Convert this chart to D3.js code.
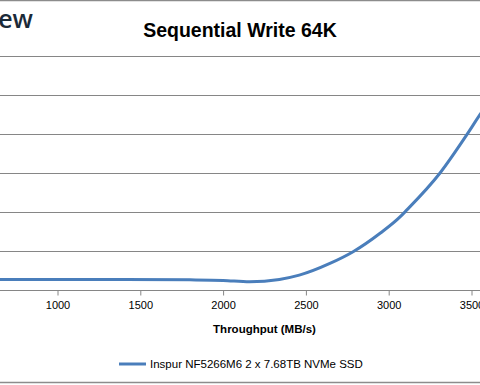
<!DOCTYPE html>
<html>
<head>
<meta charset="utf-8">
<script src="https://cdn.jsdelivr.net/npm/d3@7"></script>
<style>
  body { margin: 0; background: #fff; }
  svg { display: block; font-family: "Liberation Sans", Arial, sans-serif; }
</style>
</head>
<body>
<script>
// data (throughput MB/s vs latency)
const throughput = [300, 650, 1000, 1400, 1800, 2000, 2160, 2340, 2460, 2645, 2785, 2950, 3070, 3100, 3310, 3470, 3550, 3650];
const latency    = [0.27, 0.27, 0.27, 0.27, 0.26, 0.245, 0.21, 0.27, 0.38, 0.68, 0.98, 1.46, 1.88, 2.01, 3.0, 3.97, 4.49, 5.1];
const xTicks = [1000, 1500, 2000, 2500, 3000, 3500];
const yTicks = [1, 2, 3, 4, 5, 6];
const seriesName = "Inspur NF5266M6 2 x 7.68TB NVMe SSD";

const width = 480, height = 385;

let svg = d3.select("body").append("svg")
    .attr("width", width)
    .attr("height", height);

// chart frame (cropped)
svg.append("line").attr("x1", 0).attr("x2", width).attr("y1", 0.5).attr("y2", 0.5)
    .attr("stroke", "#8c8c8c").attr("stroke-width", 1.5);
svg.append("line").attr("x1", 0).attr("x2", width).attr("y1", 382.5).attr("y2", 382.5)
    .attr("stroke", "#8c8c8c").attr("stroke-width", 1.5);

// scales: plot area starts left of the visible crop
const x = d3.scaleLinear().domain([0, 4000]).range([-108.1, 554.3]);
const y = d3.scaleLinear().domain([0, 6]).range([290, 56]);

// logo + title
svg.append("text")
    .attr("x", 33).attr("y", 28)
    .attr("text-anchor", "end")
    .attr("fill", "#1b2a38")
    .style("font-family", "'Open Sans', sans-serif")
    .style("font-weight", "600")
    .style("font-size", "25px")
    .text("StorageReview");

svg.append("text")
    .attr("x", 240).attr("y", 37)
    .attr("text-anchor", "middle")
    .style("font-size", "19.5px")
    .style("font-weight", "bold")
    .text("Sequential Write 64K");

// gridlines
svg.append("g")
    .selectAll("line")
    .data(yTicks)
    .join("line")
    .attr("x1", 0).attr("x2", width)
    .attr("y1", (d) => Math.round(y(d)) + 0.5)
    .attr("y2", (d) => Math.round(y(d)) + 0.5)
    .attr("stroke", "#868686");

// x axis
let xAxis = svg.append("g")
    .attr("transform", "translate(0, 290.5)")
    .call(d3.axisBottom(x).tickValues(xTicks).tickSize(5).tickPadding(6).tickFormat(d3.format("d")));
xAxis.select(".domain").remove();
xAxis.append("line").attr("x1", 0).attr("x2", width).attr("stroke", "#868686");
xAxis.selectAll(".tick line").attr("stroke", "#868686");
xAxis.selectAll(".tick text")
    .attr("fill", "#000")
    .style("font-size", "11px")
    .style("font-family", "Liberation Sans, Arial, sans-serif");

svg.append("text")
    .attr("x", 264.5).attr("y", 333)
    .attr("text-anchor", "middle")
    .style("font-size", "11.5px")
    .style("font-weight", "bold")
    .text("Throughput (MB/s)");

// series
const points = throughput.map((t, i) => [t, latency[i]]);
let line = d3.line()
    .x((d) => x(d[0]))
    .y((d) => y(d[1]))
    .curve(d3.curveMonotoneX);

svg.append("path")
    .datum(points)
    .attr("d", line)
    .attr("fill", "none")
    .attr("stroke", "#4a7ebb")
    .attr("stroke-width", 3);

// legend
svg.append("line")
    .attr("x1", 119).attr("x2", 146)
    .attr("y1", 364).attr("y2", 364)
    .attr("stroke", "#4a7ebb")
    .attr("stroke-width", 3);
svg.append("text")
    .attr("x", 150).attr("y", 368)
    .style("font-size", "11.5px")
    .text(seriesName);
</script>
</body>
</html>
